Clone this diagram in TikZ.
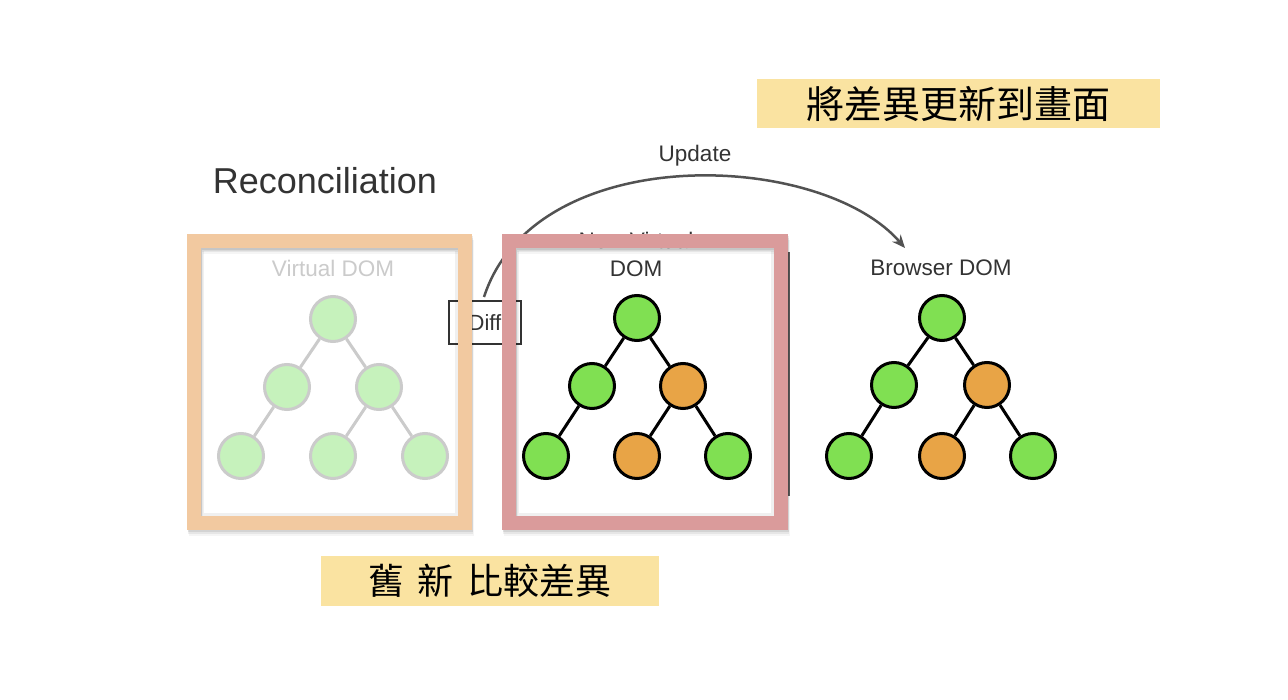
\documentclass[tikz,border=0pt]{standalone}
\usepackage{fontspec}
\setmainfont{Liberation Sans}
\newfontfamily\cjk[WordSpace=1.7]{Noto Sans CJK TC}
\usetikzlibrary{arrows.meta}
\definecolor{txt}{HTML}{333333}
\definecolor{faint}{HTML}{CBCBCB}
\definecolor{faintgreen}{HTML}{C6F2BC}
\definecolor{leafgreen}{HTML}{80E052}
\definecolor{leaforange}{HTML}{E8A446}
\definecolor{peach}{HTML}{F2C9A0}
\definecolor{rose}{HTML}{DA9B9B}
\definecolor{note}{HTML}{FAE3A1}
\tikzset{
  lbl/.style={font=\fontsize{22.5}{28}\selectfont, text=txt, inner sep=0pt, align=center},
  gnode/.style={circle, minimum size=45pt, inner sep=0pt, line width=3pt, draw=black, fill=leafgreen},
  onode/.style={gnode, fill=leaforange},
  fnode/.style={gnode, draw=faint, fill=faintgreen},
  tedge/.style={line width=3pt, draw=black},
  fedge/.style={line width=3pt, draw=faint},
  frame/.style={line width=14pt},
  notebox/.style={fill=note, draw=none},
  cjklbl/.style={font=\cjk\fontsize{38}{44}\selectfont, text=black, inner sep=0pt},
}
\begin{document}
\begin{tikzpicture}[x=1pt,y=-1pt]
\useasboundingbox[fill=white] (0,0) rectangle (1288,700);

% title
\node[font=\fontsize{36}{40}\selectfont, text=txt, inner sep=0pt] (title) at (325,181) {Reconciliation};

% old virtual DOM (faded)
\node[lbl, text=faint] (vlabel) at (333,268) {Virtual DOM};
\node[fnode] (a1) at (333,319) {};
\node[fnode] (a2) at (287,387) {};
\node[fnode] (a3) at (379,387) {};
\node[fnode] (a4) at (241,456) {};
\node[fnode] (a5) at (333,456) {};
\node[fnode] (a6) at (425,456) {};
\draw[fedge] (a1) -- (a2) (a1) -- (a3) (a2) -- (a4) (a3) -- (a5) (a3) -- (a6);

% diff box and update curve
\node[draw=txt, line width=1.2pt, minimum width=72pt, minimum height=43pt, inner sep=0pt, font=\fontsize{22}{26}\selectfont, text=txt] (diff) at (485,322.5) {Diff};
\coordinate (ustart) at (484,297);
\node[lbl] (blabel) at (941,268) {Browser DOM};
\coordinate (uend) at (905,248);
\draw[line width=2.5pt, draw=txt!85, -{Stealth[length=13pt,width=11pt]}] (ustart) .. controls (535,140) and (820,150) .. (uend);
\node[lbl] (update) at (695,156) {Update};

% new virtual DOM
\node[lbl] (nlabel) at (636,254) {New Virtual\\DOM};
\node[gnode] (b1) at (637,318) {};
\node[gnode] (b2) at (592,386) {};
\node[onode] (b3) at (683,386) {};
\node[gnode] (b4) at (546,456) {};
\node[onode] (b5) at (637,456) {};
\node[gnode] (b6) at (728,456) {};
\draw[tedge] (b1) -- (b2) (b1) -- (b3) (b2) -- (b4) (b3) -- (b5) (b3) -- (b6);

% panel edge
\coordinate (pe1) at (789,252);
\coordinate (pe2) at (789,496);
\draw[line width=2pt, draw=black!65] (pe1) -- (pe2);

% frames with soft shadows
\foreach \o/\op in {6/0.04,4/0.06,2/0.08}{
  \draw[frame, black, opacity=\op] (194+\o*0.3,241+\o) rectangle (465+\o*0.3,523+\o);
  \draw[frame, black, opacity=\op] (509+\o*0.3,241+\o) rectangle (781+\o*0.3,523+\o);
}
\draw[frame, draw=peach] (194,241) rectangle (465,523);
\draw[frame, draw=rose] (509,241) rectangle (781,523);
\draw[black, opacity=0.06, line width=3pt] (202.5,249.5) rectangle (456.5,514.5);
\draw[black, opacity=0.06, line width=3pt] (517.5,249.5) rectangle (772.5,514.5);

% browser DOM
\node[gnode] (c1) at (942,318) {};
\node[gnode] (c2) at (894,385) {};
\node[onode] (c3) at (987,385) {};
\node[gnode] (c4) at (849,456) {};
\node[onode] (c5) at (942,456) {};
\node[gnode] (c6) at (1033,456) {};
\draw[tedge] (c1) -- (c2) (c1) -- (c3) (c2) -- (c4) (c3) -- (c5) (c3) -- (c6);

% notes
\fill[notebox] (757,79) rectangle (1160,128);
\node[cjklbl] (note1) at (958.5,104) {將差異更新到畫面};
\fill[notebox] (321,556) rectangle (659,606);
\node[cjklbl, font=\cjk\fontsize{36}{42}\selectfont] (note2) at (490,581) {舊 新 比較差異};
\end{tikzpicture}
\end{document}
